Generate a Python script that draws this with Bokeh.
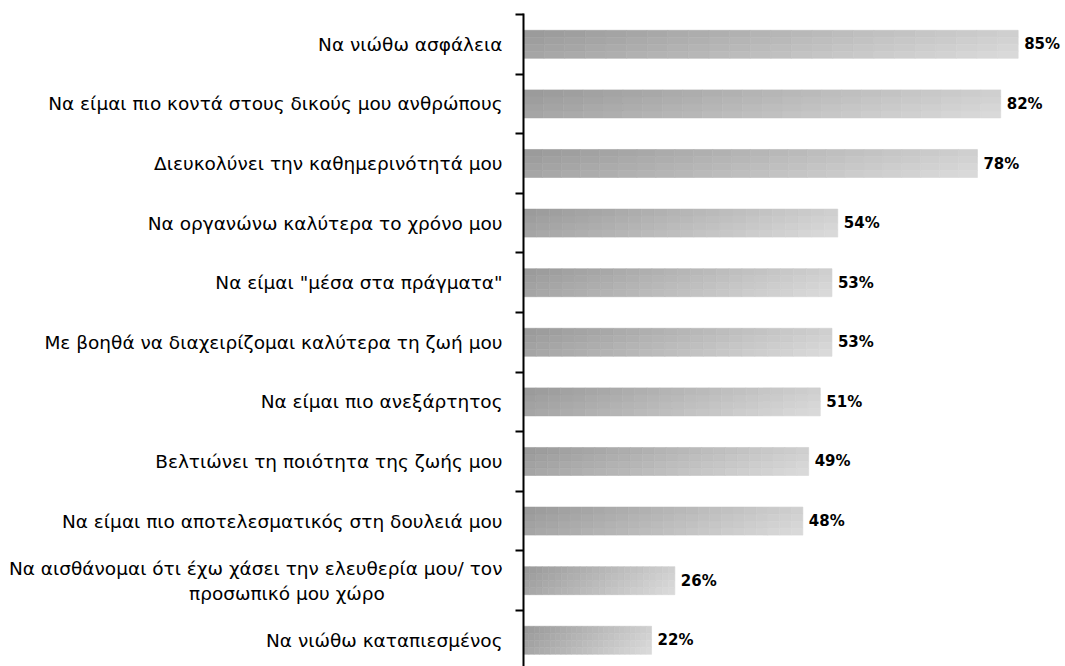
from bokeh.plotting import figure
from bokeh.models import ColumnDataSource, Range1d, FixedTicker, LinearAxis, LabelSet
from bokeh.core.properties import value
from bokeh.embed import file_html
from bokeh.resources import INLINE

categories = [
    "Να νιώθω ασφάλεια",
    "Να είμαι πιο κοντά στους δικούς μου ανθρώπους",
    "Διευκολύνει την καθημερινότητά μου",
    "Να οργανώνω καλύτερα το χρόνο μου",
    "Να είμαι \"μέσα στα πράγματα\"",
    "Με βοηθά να διαχειρίζομαι καλύτερα τη ζωή μου",
    "Να είμαι πιο ανεξάρτητος",
    "Βελτιώνει τη ποιότητα της ζωής μου",
    "Να είμαι πιο αποτελεσματικός στη δουλειά μου",
    "Να αισθάνομαι ότι έχω χάσει την ελευθερία μου/ τον\nπροσωπικό μου χώρο" + "\u00a0" * 20,
    "Να νιώθω καταπιεσμένος",
]
values = [85, 82, 78, 54, 53, 53, 51, 49, 48, 26, 22]

n = len(categories)
ypos = [n - 1 - i for i in range(n)]

p = figure(width=1065, height=666, output_backend="svg", toolbar_location=None,
           x_axis_type=None, y_axis_type=None,
           x_range=Range1d(0, 93.13), y_range=Range1d(-0.44, n - 0.483),
           min_border_left=523, min_border_right=0, min_border_top=13, min_border_bottom=0)
p.outline_line_color = None
p.grid.visible = False
p.background_fill_color = "white"
p.border_fill_color = "white"

# gradient bars: split each bar into small pieces
NX, NY = 24, 4
bh = 0.47
lefts, rights, ys, hs, cols = [], [], [], [], []
for yv, v in zip(ypos, values):
    for j in range(NY):
        ty = (j + 0.5) / NY
        yc = yv + bh / 2 - (j + 0.5) * bh / NY
        for k in range(NX):
            tx = (k + 0.5) / NX
            c = int(round(152 + 54 * tx + 14 * ty))
            c = min(c, 235)
            lefts.append(v * k / NX)
            rights.append(v * (k + 1) / NX)
            ys.append(yc)
            hs.append(bh / NY)
            cols.append("#%02x%02x%02x" % (c, c, c))
src = ColumnDataSource(dict(left=lefts, right=rights, y=ys, h=hs, c=cols))
p.hbar(y="y", left="left", right="right", height="h", source=src,
       fill_color="c", line_color="c", line_width=0.6)

# axis with category labels and boundary ticks
ax = LinearAxis()
ax.ticker = FixedTicker(ticks=ypos, minor_ticks=[i - 0.5 for i in range(n + 1)])
ax.major_label_overrides = {yv: lab for yv, lab in zip(ypos, categories)}
ax.major_tick_line_color = None
ax.major_tick_out = 0
ax.major_tick_in = 0
ax.minor_tick_out = 8
ax.minor_tick_in = 0
ax.minor_tick_line_width = 2
ax.minor_tick_line_color = "black"
ax.axis_line_width = 2
ax.axis_line_color = "black"
ax.major_label_standoff = 13
ax.major_label_text_font = "DejaVu Sans"
ax.major_label_text_font_size = "18.5px"
ax.major_label_text_color = "black"
p.add_layout(ax, "left")

lsrc = ColumnDataSource(dict(x=values, y=ypos, t=["%d%%" % v for v in values]))
labels = LabelSet(x="x", y="y", text="t", source=lsrc, x_offset=6,
                  text_baseline="middle", text_align="left",
                  text_font=value("DejaVu Sans"), text_font_size="15px",
                  text_font_style="bold", text_color="black")
p.add_layout(labels)

open("out.html", "w").write(file_html(p, INLINE))
